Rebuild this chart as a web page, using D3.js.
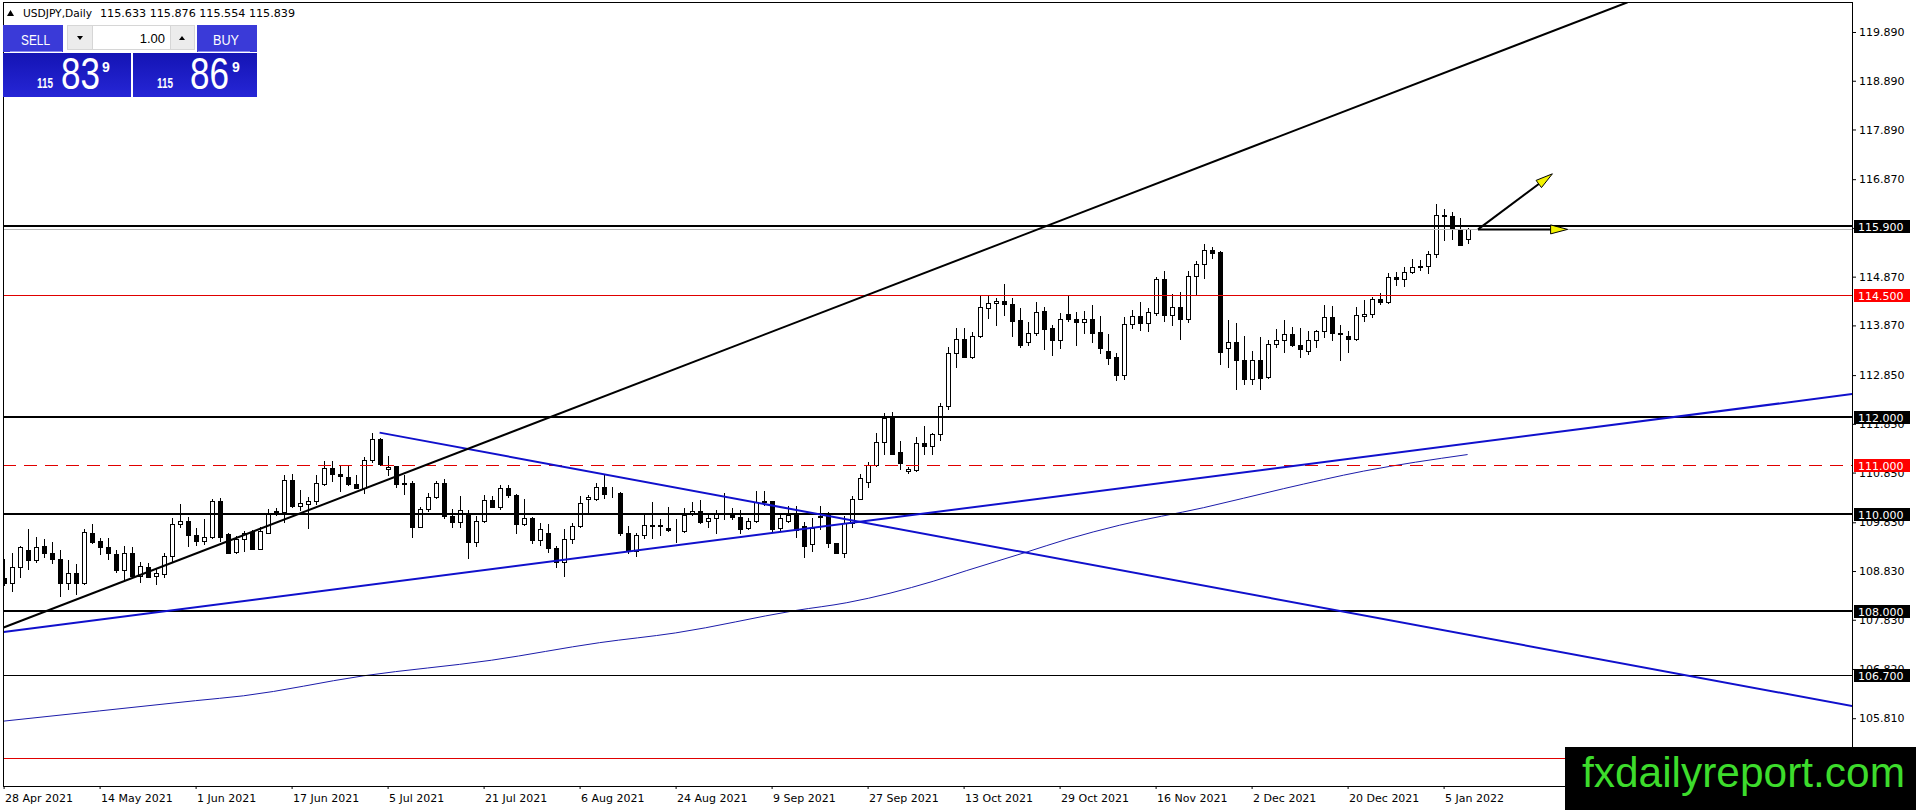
<!DOCTYPE html>
<html>
<head>
<meta charset="utf-8">
<style>
    html, body {
        margin: 0;
        padding: 0;
        background: #fff;
        overflow: hidden;
    }
    svg {
        display: block;
        font-family: 'DejaVu Sans', sans-serif;
    }
    .axis text {
        font-size: 11px;
        fill: #000;
        font-family: 'DejaVu Sans', sans-serif;
    }
    .axis line {
        stroke: #000;
    }
</style>
</head>
<body>
<svg width="1916" height="810"></svg>
<script src="https://cdn.jsdelivr.net/npm/d3@7/dist/d3.min.js"></script>
<script>
// daily bars, 28 Apr 2021 .. 10 Jan 2022, [open, high, low, close]
var ohlc = [
    [108.68,109.07,108.54,108.58],[108.58,109.21,108.43,108.91],[108.91,109.34,108.70,109.32],[109.27,109.69,108.88,109.05],
    [109.05,109.52,109.02,109.33],[109.34,109.49,109.12,109.21],[109.21,109.43,109.00,109.07],[109.07,109.27,108.32,108.59],
    [108.59,109.05,108.46,108.78],[108.78,108.97,108.36,108.59],[108.59,109.69,108.56,109.64],[109.62,109.79,109.40,109.43],
    [109.45,109.50,109.18,109.33],[109.32,109.51,109.07,109.19],[109.17,109.27,108.82,108.86],[108.86,109.34,108.62,109.21],
    [109.21,109.32,108.72,108.73],[108.73,109.02,108.60,108.93],[108.91,108.99,108.70,108.71],[108.72,108.89,108.56,108.78],
    [108.76,109.19,108.70,109.14],[109.14,109.91,109.04,109.79],[109.79,110.21,109.74,109.85],[109.85,109.93,109.34,109.56],
    [109.56,109.72,109.36,109.45],[109.45,109.89,109.39,109.52],[109.52,110.31,109.51,110.26],[110.26,110.32,109.45,109.52],
    [109.58,109.62,109.19,109.21],[109.23,109.55,109.19,109.48],[109.48,109.65,109.24,109.60],[109.63,109.67,109.28,109.29],
    [109.29,109.74,109.28,109.66],[109.62,110.10,109.60,110.02],[110.06,110.13,109.98,110.00],[110.05,110.80,109.84,110.70],
    [110.70,110.82,110.15,110.16],[110.17,110.49,110.08,110.23],[110.20,110.34,109.71,110.27],[110.27,110.80,110.21,110.63],
    [110.62,111.09,110.60,110.94],[110.94,111.09,110.68,110.83],[110.83,111.01,110.48,110.78],[110.75,110.98,110.60,110.62],
    [110.62,110.80,110.53,110.54],[110.54,111.16,110.44,111.11],[111.11,111.67,111.06,111.53],[111.53,111.55,111.01,111.02],
    [110.93,111.20,110.81,110.97],[110.98,110.99,110.55,110.62],[110.63,110.79,110.42,110.62],[110.63,110.68,109.53,109.74],
    [109.74,110.15,109.73,110.10],[110.10,110.44,110.06,110.34],[110.34,110.68,110.32,110.63],[110.63,110.72,109.92,109.95],
    [109.96,110.10,109.73,109.84],[109.84,110.36,109.74,110.08],[110.03,110.08,109.09,109.43],[109.43,109.95,109.35,109.85],
    [109.85,110.39,109.83,110.29],[110.29,110.37,110.14,110.15],[110.15,110.60,110.10,110.53],[110.53,110.60,110.34,110.38],
    [110.38,110.41,109.60,109.79],[109.79,110.30,109.77,109.91],[109.92,109.93,109.41,109.47],[109.47,109.82,109.36,109.69],
    [109.62,109.79,109.23,109.30],[109.31,109.35,108.91,109.02],[109.02,109.69,108.73,109.48],[109.48,109.82,109.41,109.76],
    [109.76,110.37,109.74,110.22],[110.30,110.39,110.01,110.34],[110.30,110.63,110.29,110.56],[110.56,110.79,110.32,110.42],
    [110.44,110.55,110.34,110.43],[110.44,110.46,109.56,109.60],[109.62,109.76,109.19,109.25],[109.25,109.60,109.14,109.57],
    [109.57,109.98,109.50,109.77],[109.75,110.25,109.50,109.77],[109.77,109.89,109.57,109.76],[109.71,110.15,109.66,109.68],
    [109.68,109.89,109.43,109.67],[109.66,110.13,109.64,109.98],[110.01,110.24,109.97,110.07],[110.07,110.29,109.82,109.84],
    [109.85,110.01,109.73,109.91],[109.91,110.08,109.60,110.00],[109.95,110.44,109.90,109.96],[109.98,110.13,109.90,109.93],
    [109.93,110.08,109.62,109.69],[109.71,109.92,109.69,109.86],[109.86,110.47,109.83,110.25],[110.27,110.47,110.19,110.24],
    [110.26,110.27,109.64,109.69],[109.71,109.98,109.67,109.91],[109.86,110.17,109.84,109.98],[110.00,110.17,109.53,109.67],
    [109.75,109.84,109.12,109.35],[109.38,109.91,109.25,109.71],[109.93,110.16,109.70,109.96],[110.01,110.05,109.33,109.40],
    [109.40,109.41,109.19,109.21],[109.21,109.96,109.12,109.81],[109.81,110.37,109.74,110.31],[110.31,110.82,110.30,110.73],
    [110.65,111.07,110.56,111.01],[111.01,111.66,110.99,111.48],[111.48,112.07,111.23,111.96],[111.96,112.09,111.23,111.24],
    [111.28,111.50,110.92,111.05],[110.88,110.97,110.85,110.92],[110.90,111.57,110.89,111.45],[111.46,111.81,111.23,111.40],
    [111.40,111.67,111.23,111.64],[111.64,112.27,111.52,112.22],[112.21,113.42,112.15,113.30],[113.30,113.81,113.01,113.60],
    [113.60,113.81,113.22,113.23],[113.23,113.74,113.21,113.66],[113.66,114.47,113.64,114.25],[114.22,114.47,114.03,114.32],
    [114.32,114.43,113.88,114.37],[114.37,114.72,114.08,114.30],[114.30,114.43,113.65,113.97],[113.98,114.22,113.42,113.47],
    [113.52,113.93,113.47,113.71],[113.71,114.34,113.67,114.14],[114.17,114.25,113.39,113.80],[113.81,113.88,113.26,113.56],
    [113.56,114.12,113.41,114.01],[114.10,114.48,113.96,114.00],[114.01,114.15,113.47,113.93],[113.93,114.17,113.72,114.00],
    [114.00,114.29,113.52,113.72],[113.73,114.06,113.30,113.41],[113.34,113.69,113.08,113.21],[113.22,113.30,112.74,112.85],
    [112.85,114.05,112.78,113.90],[113.90,114.19,113.81,114.06],[114.06,114.34,113.78,113.91],[113.91,114.22,113.76,114.14],
    [114.12,114.87,114.08,114.82],[114.82,114.99,113.95,114.08],[114.08,114.51,113.88,114.24],[114.24,114.55,113.60,114.01],
    [114.01,114.99,113.93,114.88],[114.88,115.20,114.49,115.13],[115.13,115.54,114.84,115.42],[115.42,115.47,115.26,115.35],
    [115.37,115.40,113.08,113.33],[113.40,113.98,113.01,113.52],[113.52,113.91,112.56,113.15],[113.16,113.65,112.67,112.76],
    [112.76,113.34,112.67,113.17],[113.17,113.64,112.57,112.80],[112.81,113.56,112.80,113.49],[113.48,113.79,113.42,113.56],
    [113.56,113.98,113.33,113.69],[113.69,113.84,113.45,113.46],[113.47,113.82,113.23,113.38],[113.35,113.76,113.28,113.56],
    [113.56,113.78,113.43,113.76],[113.76,114.29,113.64,114.04],[114.04,114.27,113.57,113.71],[113.71,113.88,113.15,113.69],
    [113.65,113.76,113.33,113.60],[113.60,114.25,113.56,114.08],[114.07,114.39,113.96,114.10],[114.10,114.46,114.05,114.42],
    [114.41,114.53,114.30,114.34],[114.36,114.94,114.32,114.86],[114.86,114.97,114.70,114.82],[114.82,115.06,114.68,114.96],
    [114.96,115.23,114.94,115.06],[115.06,115.21,115.01,115.08],[115.08,115.40,114.95,115.33],[115.33,116.36,115.28,116.14],
    [116.14,116.25,115.62,116.11],[116.11,116.19,115.64,115.84],[115.84,116.07,115.51,115.52],[115.633,115.876,115.554,115.839]
];

// moving average, [bar, price]
var maPoints = [
    [0,105.75],[12,105.96],[24,106.17],[30,106.27],[45,106.68],[61,107.00],[74.5,107.36],[84,107.56],
    [99,108.02],[105.4,108.18],[116.2,108.62],[120.4,108.84],[127.9,109.22],[132.9,109.48],[139.5,109.77],
    [150,110.13],[160,110.52],[170,110.88],[183,111.22]
];

// trend lines, [bar, price] end points
var trendBlack = [[0,107.67],[203,120.50]];
var trendUp = [[0,107.58],[232,112.48]];
var trendDown = [[47,111.67],[232,106.03]];

// arrows, [bar, price] from -> to
var arrows = [
    [[184.3,115.84],[193.6,116.98]],
    [[184.3,115.84],[195.5,115.84]]
];

var blackLevels = [115.9, 112, 110, 108];
var thinLevels = [106.7];
var redLevels = [114.5, 105];
var dashLevels = [111];
var bidPrice = 115.839;

var priceTicks = [119.89,118.89,117.89,116.87,115.87,114.87,113.87,112.85,111.85,110.85,109.83,108.83,107.83,106.82,105.81,104.80];
var dateTicks = ['28 Apr 2021','14 May 2021','1 Jun 2021','17 Jun 2021','5 Jul 2021','21 Jul 2021','6 Aug 2021','24 Aug 2021',
    '9 Sep 2021','27 Sep 2021','13 Oct 2021','29 Oct 2021','16 Nov 2021','2 Dec 2021','20 Dec 2021','5 Jan 2022'];
var dateTickBars = [0,12,24,36,48,60,72,84,96,108,120,132,144,156,168,180];

var W = 1916, H = 810;
var plotL = 3, plotT = 3, plotR = 1852, plotB = 786;

var x = d3.scaleLinear().domain([0, 231]).range([3.6, 1851.6]);
var y = d3.scaleLinear().domain([110, 119.89]).range([514, 32]);

var svg = d3.select('svg');
svg.append('rect').attr('width', W).attr('height', H).attr('fill', '#fff');

svg.append('defs').append('clipPath').attr('id', 'plotclip')
    .append('rect')
    .attr('x', plotL).attr('y', plotT)
    .attr('width', plotR - plotL).attr('height', plotB - plotT);

var plot = svg.append('g').attr('clip-path', 'url(#plotclip)');

// candles
var bars = plot.append('g').attr('shape-rendering', 'crispEdges');
bars.selectAll('line.wick')
    .data(ohlc)
    .enter()
    .append('line')
    .attr('class', 'wick')
    .attr('x1', function (d, i) { return Math.round(x(i)) + 0.5; })
    .attr('x2', function (d, i) { return Math.round(x(i)) + 0.5; })
    .attr('y1', function (d) { return Math.round(y(d[1])); })
    .attr('y2', function (d) { return Math.round(y(d[2])) + 1; })
    .attr('stroke', '#000');
bars.selectAll('rect.body')
    .data(ohlc)
    .enter()
    .append('rect')
    .attr('class', 'body')
    .attr('x', function (d, i) { return Math.round(x(i)) - 1.5; })
    .attr('y', function (d) { return Math.round(y(Math.max(d[0], d[3]))) + 0.5; })
    .attr('width', 4)
    .attr('height', function (d) {
        return Math.max(Math.round(y(Math.min(d[0], d[3]))) - Math.round(y(Math.max(d[0], d[3]))), 0);
    })
    .attr('fill', function (d) { return d[3] >= d[0] ? '#fff' : '#000'; })
    .attr('stroke', '#000');

// moving average
var maLine = d3.line()
    .x(function (d) { return x(d[0]); })
    .y(function (d) { return y(d[1]); })
    .curve(d3.curveMonotoneX);
plot.append('path')
    .datum(maPoints)
    .attr('d', maLine)
    .attr('fill', 'none')
    .attr('stroke', '#1c1caa')
    .attr('stroke-width', 1);

// horizontal levels
function hline(p, color, width, dash) {
    var yy = width % 2 ? Math.round(y(p)) + 0.5 : Math.round(y(p));
    var l = plot.append('line')
        .attr('x1', plotL).attr('x2', plotR)
        .attr('y1', yy).attr('y2', yy)
        .attr('stroke', color)
        .attr('stroke-width', width)
        .attr('shape-rendering', 'crispEdges');
    if (dash) l.attr('stroke-dasharray', dash);
}
hline(bidPrice, '#b8b8b8', 1);
blackLevels.forEach(function (p) { hline(p, '#000', 2); });
thinLevels.forEach(function (p) { hline(p, '#000', 1); });
redLevels.forEach(function (p) { hline(p, '#e00000', 1); });
dashLevels.forEach(function (p) { hline(p, '#e00000', 1, '13,8'); });

// trend lines
var seg = d3.line()
    .x(function (d) { return x(d[0]); })
    .y(function (d) { return y(d[1]); });
plot.append('path').datum(trendUp).attr('d', seg)
    .attr('stroke', '#1010cc').attr('stroke-width', 2).attr('fill', 'none');
plot.append('path').datum(trendDown).attr('d', seg)
    .attr('stroke', '#1010cc').attr('stroke-width', 2).attr('fill', 'none');
plot.append('path').datum(trendBlack).attr('d', seg)
    .attr('stroke', '#000').attr('stroke-width', 2).attr('fill', 'none');

// arrows
arrows.forEach(function (a) {
    var x1 = x(a[0][0]), y1 = y(a[0][1]), x2 = x(a[1][0]), y2 = y(a[1][1]);
    var ang = Math.atan2(y2 - y1, x2 - x1);
    var len = 17, hw = 4.5;
    var bx = x2 - len * Math.cos(ang), by = y2 - len * Math.sin(ang);
    plot.append('line')
        .attr('x1', x1).attr('y1', y1).attr('x2', bx).attr('y2', by)
        .attr('stroke', '#000').attr('stroke-width', 2);
    var pts = [
        [x2, y2],
        [bx + hw * Math.sin(ang), by - hw * Math.cos(ang)],
        [bx - hw * Math.sin(ang), by + hw * Math.cos(ang)]
    ];
    plot.append('polygon')
        .attr('points', pts.map(function (p) { return p.join(','); }).join(' '))
        .attr('fill', '#f2f200')
        .attr('stroke', '#000')
        .attr('stroke-width', 1);
});

// frame
svg.append('rect')
    .attr('x', plotL + 0.5).attr('y', plotT - 0.5)
    .attr('width', plotR - plotL).attr('height', plotB - plotT + 0.5)
    .attr('fill', 'none').attr('stroke', '#000')
    .attr('shape-rendering', 'crispEdges');

// price axis
var yAxis = d3.axisRight(y)
    .tickValues(priceTicks)
    .tickFormat(d3.format('.3f'))
    .tickSize(4)
    .tickPadding(3);
svg.append('g')
    .attr('class', 'axis')
    .attr('transform', 'translate(' + plotR + ',0)')
    .call(yAxis)
    .call(function (g) { g.select('.domain').remove(); });

// date axis
var xAxis = d3.axisBottom(x)
    .tickValues(dateTickBars)
    .tickFormat(function (d, i) { return dateTicks[i]; })
    .tickSize(3);
svg.append('g')
    .attr('class', 'axis')
    .attr('transform', 'translate(0,' + plotB + ')')
    .call(xAxis)
    .call(function (g) {
        g.select('.domain').remove();
        g.selectAll('text').attr('text-anchor', 'start').attr('x', 1).attr('y', 8);
    });

// level price boxes
var boxes = svg.append('g');
function levelBox(p, color) {
    var yy = Math.round(y(p));
    boxes.append('rect')
        .attr('x', 1854).attr('y', yy - 6)
        .attr('width', 56).attr('height', 13)
        .attr('fill', color);
    boxes.append('text')
        .attr('x', 1858).attr('y', yy + 4.5)
        .attr('fill', '#fff')
        .attr('font-size', 11)
        .text(d3.format('.3f')(p));
}
blackLevels.concat(thinLevels).forEach(function (p) { levelBox(p, '#000'); });
redLevels.concat(dashLevels).forEach(function (p) { levelBox(p, '#ff0000'); });

// header
svg.append('path')
    .attr('d', 'M7,16 L10.5,10 L14,16 Z')
    .attr('fill', '#000');
svg.append('text')
    .attr('x', 23).attr('y', 17)
    .attr('font-size', 11)
    .attr('textLength', 69).attr('lengthAdjust', 'spacingAndGlyphs')
    .text('USDJPY,Daily');
svg.append('text')
    .attr('x', 100).attr('y', 17)
    .attr('font-size', 11)
    .attr('textLength', 195).attr('lengthAdjust', 'spacingAndGlyphs')
    .text('115.633 115.876 115.554 115.839');

// one click trading panel
var grad = svg.select('defs').append('linearGradient')
    .attr('id', 'pricegrad').attr('x1', 0).attr('y1', 0).attr('x2', 0).attr('y2', 1);
grad.append('stop').attr('offset', '0%').attr('stop-color', '#1414b4');
grad.append('stop').attr('offset', '100%').attr('stop-color', '#2626d6');

var panel = svg.append('g').attr('font-family', "'Liberation Sans', Arial, sans-serif");
panel.append('rect').attr('x', 3).attr('y', 25).attr('width', 60).attr('height', 27).attr('fill', '#3a3ad8');
panel.append('rect').attr('x', 197).attr('y', 25).attr('width', 60).attr('height', 27).attr('fill', '#3a3ad8');
panel.append('line').attr('x1', 10).attr('x2', 62).attr('y1', 51.5).attr('y2', 51.5).attr('stroke', '#8a8af0');
panel.append('line').attr('x1', 198).attr('x2', 250).attr('y1', 51.5).attr('y2', 51.5).attr('stroke', '#8a8af0');
panel.append('text').attr('x', 21).attr('y', 45).attr('fill', '#fff').attr('font-size', 15)
    .attr('textLength', 29).attr('lengthAdjust', 'spacingAndGlyphs').text('SELL');
panel.append('text').attr('x', 213).attr('y', 45).attr('fill', '#fff').attr('font-size', 15)
    .attr('textLength', 26).attr('lengthAdjust', 'spacingAndGlyphs').text('BUY');

panel.append('rect').attr('x', 67).attr('y', 25).attr('width', 128).attr('height', 25).attr('fill', '#d6d6d6');
panel.append('rect').attr('x', 68).attr('y', 26).attr('width', 24).attr('height', 23).attr('fill', '#ececec');
panel.append('rect').attr('x', 171).attr('y', 26).attr('width', 23).attr('height', 23).attr('fill', '#ececec');
panel.append('rect').attr('x', 93).attr('y', 26).attr('width', 77).attr('height', 23).attr('fill', '#fff');
panel.append('path').attr('d', 'M77,36 L83,36 L80,40 Z').attr('fill', '#000');
panel.append('path').attr('d', 'M179,40 L185,40 L182,36 Z').attr('fill', '#000');
panel.append('text').attr('x', 165).attr('y', 43).attr('text-anchor', 'end').attr('font-size', 13).text('1.00');

panel.append('rect').attr('x', 3).attr('y', 53).attr('width', 128).attr('height', 44).attr('fill', 'url(#pricegrad)');
panel.append('rect').attr('x', 133).attr('y', 53).attr('width', 124).attr('height', 44).attr('fill', 'url(#pricegrad)');

function quote(x0, big, x1, x2) {
    panel.append('text').attr('x', x0).attr('y', 88).attr('fill', '#fff')
        .attr('font-size', 14).attr('font-weight', 'bold')
        .attr('textLength', 16).attr('lengthAdjust', 'spacingAndGlyphs').text('115');
    panel.append('text').attr('x', x1).attr('y', 89).attr('fill', '#fff')
        .attr('font-size', 45)
        .attr('textLength', 39).attr('lengthAdjust', 'spacingAndGlyphs').text(big);
    panel.append('text').attr('x', x2).attr('y', 72).attr('fill', '#fff')
        .attr('font-size', 14).attr('font-weight', 'bold').text('9');
}
quote(37, '83', 61, 102);
quote(157, '86', 190, 232);

// watermark
svg.append('rect')
    .attr('x', 1565).attr('y', 747)
    .attr('width', W - 1565).attr('height', H - 747)
    .attr('fill', '#000');
svg.append('text')
    .attr('x', 1582).attr('y', 787)
    .attr('font-family', "'Liberation Sans', Arial, sans-serif")
    .attr('font-size', 42)
    .attr('fill', '#3ddc2c')
    .attr('textLength', 323).attr('lengthAdjust', 'spacingAndGlyphs')
    .text('fxdailyreport.com');
</script>
</body>
</html>
